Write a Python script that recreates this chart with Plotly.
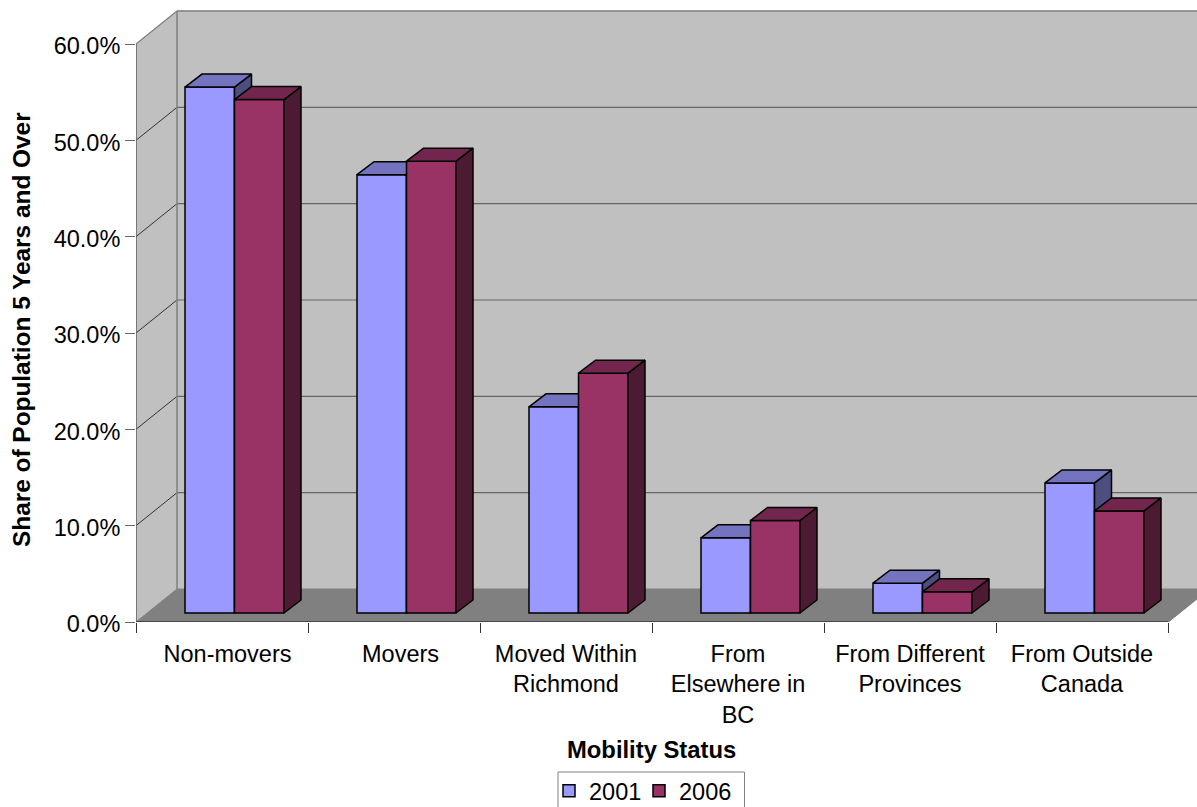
import plotly.graph_objects as go

categories = ["Non-movers", "Movers", "Moved Within<br>Richmond", "From<br>Elsewhere in<br>BC",
              "From Different<br>Provinces", "From Outside<br>Canada"]
values_2001 = [54.6, 45.5, 21.4, 7.8, 3.1, 13.5]
values_2006 = [53.3, 46.9, 24.9, 9.6, 2.2, 10.6]
y_ticks = [0, 10, 20, 30, 40, 50, 60]

W, H = 1197, 807
L, T, B = 136, 8, 185
PX_X = 172.0            # px per category
PX_Y = 9.633            # px per percentage point
XR = [-0.5, -0.5 + (W - L) / PX_X]
YR = [0, (H - B - T) / PX_Y]
DX = 41 / PX_X          # depth of the box, data units
DY = 33 / PX_Y
BAR_W = 49.5 / PX_X
BAR_SHIFT = 12.5 / PX_X # bars stand inside the floor
BAR_BASE = 9 / PX_Y
BAR_DX = 17 / PX_X
BAR_DY = 13 / PX_Y
XL, XE = -0.5, 5.5
LABEL_NUDGE = [5.5 / PX_X, 6.5 / PX_X, 0, 0, 0, 0]

FONT = "Liberation Sans, Arial, sans-serif"
WALL, FLOOR = "#C0C0C0", "#808080"
EDGE = "#808080"
DARK = "#333333"
AXIS = "#666666"
plot_h = H - B - T
plot_w = W - L


def poly(pts, fill, line=None, width=1.0):
    path = "M" + "L".join(f"{x},{y}" for x, y in pts) + "Z"
    return dict(type="path", path=path, xref="x", yref="y", fillcolor=fill, layer="below",
                line=dict(color=line or fill, width=width))


def seg(x0, y0, x1, y1, color, width=1.0):
    return dict(type="line", x0=x0, y0=y0, x1=x1, y1=y1, xref="x", yref="y", layer="below",
                line=dict(color=color, width=width))


shapes = [
    poly([(XL + DX, DY), (XR[1] + 1, DY), (XR[1] + 1, 60 + DY), (XL + DX, 60 + DY)], WALL),
    poly([(XL, 0), (XL + DX, DY), (XL + DX, 60 + DY), (XL, 60)], WALL),
    poly([(XL, 0), (XE, 0), (XE + DX, DY), (XL + DX, DY)], FLOOR),
]
for t in y_ticks[1:-1]:
    shapes.append(seg(XL + DX, t + DY, XR[1] + 1, t + DY, "#666666", 1.2))
    shapes.append(seg(XL, t, XL + DX, t + DY, "#333333", 1))
shapes += [
    seg(XL + DX, DY, XL + DX, 60 + DY, EDGE, 1.5),
    seg(XL + DX, 60 + DY, XR[1] + 1, 60 + DY, EDGE, 1.5),
    seg(XL, 60, XL + DX, 60 + DY, EDGE, 1.2),
    seg(XE, 0, XE + DX, DY, EDGE, 1.2),
    seg(XL, 0, XL, 60, AXIS, 1.6),
    seg(XL, 0, XE, 0, DARK, 1.5),
    # frame of the legend, which runs off the bottom of the page as in the reference
    dict(type="rect", xref="paper", yref="paper", x0=(558 - L) / plot_w, x1=(744.5 - L) / plot_w,
         y0=(H - B - 815) / plot_h, y1=(H - B - 772) / plot_h, layer="above",
         line=dict(color="#808080", width=1), fillcolor="rgba(0,0,0,0)"),
]


def faces(x_left, vals):
    """Side and top faces of the bars, worked out from the values."""
    sx, sy, tx, ty = [], [], [], []
    for x, v in zip(x_left, vals):
        y0, y1, xr = BAR_BASE, BAR_BASE + v, x + BAR_W
        sx += [xr, xr + BAR_DX, xr + BAR_DX, xr, xr, None]
        sy += [y0, y0 + BAR_DY, y1 + BAR_DY, y1, y0, None]
        tx += [x, xr, xr + BAR_DX, x + BAR_DX, x, None]
        ty += [y1, y1, y1 + BAR_DY, y1 + BAR_DY, y1, None]
    return sx, sy, tx, ty


def add_series(fig, name, vals, offset, col, top, side, xa, ya, legend):
    lefts = [i + BAR_SHIFT + offset for i in range(len(vals))]
    fig.add_trace(go.Bar(x=[x + BAR_W / 2 for x in lefts], y=vals, base=[BAR_BASE] * len(vals), width=BAR_W,
                         name=name, marker=dict(color=col, line=dict(color="black", width=1.5)),
                         xaxis=xa, yaxis=ya, hoverinfo="y", legend=legend, showlegend=True))
    sx, sy, tx, ty = faces(lefts, vals)
    for fx, fy, c in ((sx, sy, side), (tx, ty, top)):
        fig.add_trace(go.Scatter(x=fx, y=fy, mode="lines", fill="toself", fillcolor=c,
                                 line=dict(color="black", width=1.5), showlegend=False,
                                 hoverinfo="skip", xaxis=xa, yaxis=ya))


fig = go.Figure()
add_series(fig, "2001", values_2001, -BAR_W, "#9999FF", "#7373BF", "#4D4D80", "x", "y", "legend")
add_series(fig, "2006", values_2006, 0, "#993366", "#73264D", "#4D1A33", "x2", "y2", "legend2")


def legend_at(px):
    return dict(x=(px - L) / plot_w, xanchor="left", y=(H - B - 769) / plot_h, yanchor="top",
                bgcolor="rgba(0,0,0,0)", borderwidth=0, font=dict(size=23.5), itemwidth=30,
                orientation="h")


fig.update_layout(
    width=W, height=H, margin=dict(l=L, r=0, t=T, b=B, pad=0, autoexpand=False),
    paper_bgcolor="white", plot_bgcolor="white", barmode="overlay", showlegend=True,
    font=dict(family=FONT, size=23.5, color="black"), shapes=shapes,
    xaxis=dict(range=XR, showgrid=False, zeroline=False, showline=False, ticks="",
               tickmode="array", tickvals=[i + n for i, n in enumerate(LABEL_NUDGE)], ticktext=categories,
               ticklabelstandoff=15, tickangle=0, tickfont=dict(size=23.5),
               minor=dict(ticks="outside", tickmode="array", tickvals=[i - 0.5 for i in range(7)],
                          ticklen=10, tickcolor=DARK, tickwidth=1, showgrid=False)),
    yaxis=dict(range=YR, showgrid=False, zeroline=False, showline=False, ticks="outside", ticklen=10,
               tickcolor=AXIS, tickwidth=1, tickmode="array", tickvals=y_ticks,
               ticktext=[f"{t:.1f}%" for t in y_ticks], tickfont=dict(size=23.5), ticklabelshift=2),
    xaxis2=dict(range=XR, overlaying="x", visible=False),
    yaxis2=dict(range=YR, overlaying="y", visible=False, anchor="x2"),
    legend=legend_at(549),
    legend2=legend_at(639),
    annotations=[
        dict(text="<b>Mobility Status</b>", xref="paper", yref="paper", x=(651.5 - L) / plot_w,
             y=(H - B - 749) / plot_h, yanchor="middle", xanchor="center", showarrow=False,
             font=dict(size=23.8)),
        dict(text="<b>Share of Population 5 Years and Over</b>", xref="paper", yref="paper",
             x=(21 - L) / plot_w, y=(H - B - 330) / plot_h, textangle=-90, xanchor="center",
             yanchor="middle", showarrow=False, font=dict(size=24.4)),
    ],
)
fig.write_html("out.html", config=dict(displayModeBar=False),
               post_script="document.body.style.margin='0';")
